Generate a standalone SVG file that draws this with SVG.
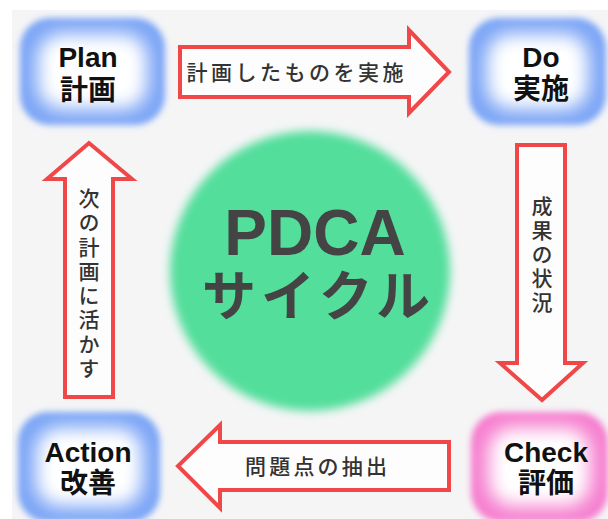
<svg xmlns="http://www.w3.org/2000/svg" width="608" height="519" viewBox="0 0 608 519">
<defs>
<style>
.lbl{font-family:"Liberation Sans","Noto Sans CJK JP",sans-serif;font-weight:700;font-size:28px;fill:#111;text-anchor:middle}
.arr{fill:#fdfdfd;stroke:#f04848;stroke-width:4;stroke-linejoin:miter}
.at{font-family:"Noto Sans CJK JP",sans-serif;font-size:21px;font-weight:500;fill:#333;text-anchor:middle}
.vt{writing-mode:vertical-rl}
.big{font-family:"Liberation Sans","Noto Sans CJK JP",sans-serif;font-weight:700;fill:#444;text-anchor:middle}
</style>
<filter id="b3" x="-20%" y="-20%" width="140%" height="140%"><feGaussianBlur stdDeviation="3"/></filter>
<filter id="b10" x="-30%" y="-30%" width="160%" height="160%"><feGaussianBlur stdDeviation="9"/></filter>
<filter id="b5" x="-10%" y="-10%" width="120%" height="120%"><feGaussianBlur stdDeviation="5"/></filter>
</defs>
<rect x="0" y="0" width="608" height="519" fill="#ffffff"/>
<rect x="12" y="10" width="596" height="509" fill="#f5f5f6"/>

<g id="connectors">
<path class="arr" d="M180,47 H409 V30 L449,72 L409,113 V97 H180 Z"/>
<text class="at" x="295" y="80" textLength="217" lengthAdjust="spacing">計画したものを実施</text>
<path class="arr" d="M517,145 H565 V363 H583 L542,400 L500,363 H517 Z"/>
<text class="at vt" x="542" y="254" textLength="117" lengthAdjust="spacing">成果の状況</text>
<path class="arr" d="M449,442 H220 V425 L178,466 L220,508 V490 H449 Z"/>
<text class="at" x="316" y="474" textLength="142" lengthAdjust="spacing">問題点の抽出</text>
<path class="arr" d="M65,397 V179 H47 L89,143 L132,179 H113 V397 Z"/>
<text class="at vt" x="89" y="283" textLength="191" lengthAdjust="spacing">次の計画に活かす</text>
</g>

<g id="center">
<circle cx="310" cy="271" r="140" fill="#52de9b" filter="url(#b5)"/>
<text class="big" x="315" y="255" font-size="64">PDCA</text>
<text class="big" x="316" y="316" font-size="54" font-family="Noto Sans CJK JP, sans-serif" textLength="228" lengthAdjust="spacing">サイクル</text>
</g>

<g id="plan">
<rect x="20" y="18" width="145" height="107" rx="30" fill="#7ba5f6" filter="url(#b3)"/>
<rect x="38" y="34" width="109" height="75" rx="24" fill="#ffffff" filter="url(#b10)"/>
<text class="lbl" x="88" y="67">Plan</text>
<text class="lbl" x="88" y="100">計画</text>
</g>
<g id="do">
<rect x="469" y="18" width="137" height="107" rx="30" fill="#7ba5f6" filter="url(#b3)"/>
<rect x="487" y="34" width="101" height="75" rx="24" fill="#ffffff" filter="url(#b10)"/>
<text class="lbl" x="541" y="67">Do</text>
<text class="lbl" x="541" y="99">実施</text>
</g>
<g id="action">
<rect x="18" y="412" width="142" height="110" rx="30" fill="#7ba5f6" filter="url(#b3)"/>
<rect x="36" y="428" width="106" height="78" rx="24" fill="#ffffff" filter="url(#b10)"/>
<text class="lbl" x="88" y="462">Action</text>
<text class="lbl" x="88" y="493">改善</text>
</g>
<g id="check">
<rect x="471" y="412" width="137" height="110" rx="30" fill="#f67fcf" filter="url(#b3)"/>
<rect x="489" y="428" width="101" height="78" rx="24" fill="#ffffff" filter="url(#b10)"/>
<text class="lbl" x="546" y="462">Check</text>
<text class="lbl" x="546" y="493">評価</text>
</g>
</svg>
